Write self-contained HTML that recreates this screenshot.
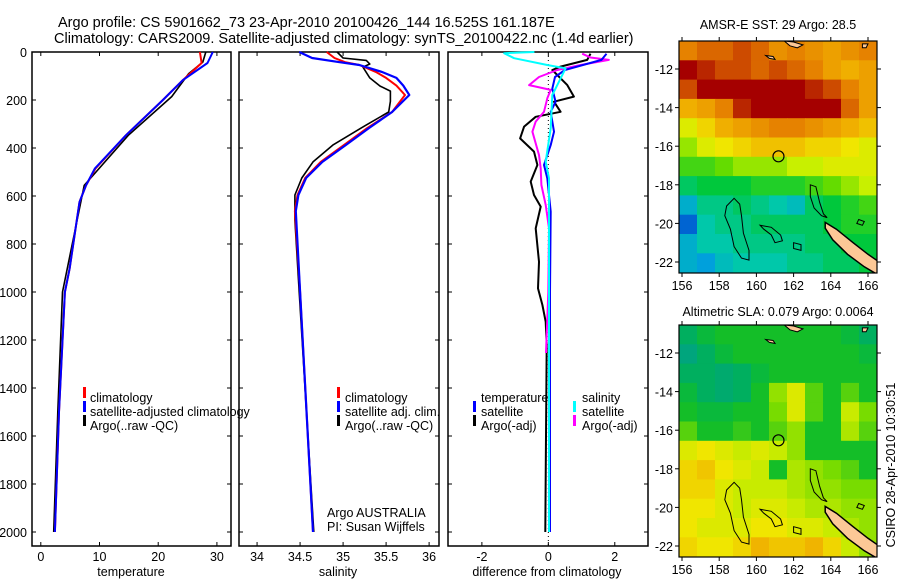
<!DOCTYPE html>
<html><head><meta charset="utf-8"><style>
html,body{margin:0;padding:0;background:#fff;}
svg{display:block;font-family:"Liberation Sans",sans-serif;}
</style></head><body>
<svg id="fig" width="900" height="580" viewBox="0 0 900 580" xmlns="http://www.w3.org/2000/svg">
<rect width="900" height="580" fill="#fff"/>
<text x="58" y="27" font-size="14.5">Argo profile: CS 5901662_73 23-Apr-2010 20100426_144 16.525S 161.187E</text>
<text x="54" y="43" font-size="14.5">Climatology: CARS2009. Satellite-adjusted climatology: synTS_20100422.nc (1.4d earlier)</text>
<text x="778" y="29" font-size="12.5" text-anchor="middle">AMSR-E SST: 29 Argo: 28.5</text>
<text x="778" y="316" font-size="12.5" text-anchor="middle">Altimetric SLA: 0.079 Argo: 0.0064</text>
<text transform="translate(895,465) rotate(-90)" font-size="12.5" text-anchor="middle">CSIRO 28-Apr-2010 10:30:51</text>
<g id="plots"></g>
</svg>
<script>
// ---------- profile data ----------
const tDepth = [0,46,117,200,347,486,556,625,903,1000,1500,2000];
const tClim  = [27.1,27.4,24.2,20.8,14.5,9.3,7.7,6.6,4.9,4.1,3.1,2.4];
const tSat   = [29.3,28.4,24.2,20.8,14.5,9.2,7.7,6.6,4.9,4.1,3.1,2.4];
const tArgoDepth = [0,42,90,186,347,556,1000,1500,2000];
const tArgo  = [28.1,27.6,25.2,22.3,14.9,7.4,3.7,2.9,2.2];

const sDepth = [0,25,42,54,83,108,140,179,250,317,388,458,525,596,663,1000,2000];
const sClim  = [34.81,34.90,35.02,35.19,35.38,35.50,35.62,35.72,35.57,35.28,35.01,34.74,34.56,34.47,34.44,34.50,34.65];
const sSat   = [34.49,34.64,34.95,35.19,35.45,35.62,35.70,35.77,35.57,35.30,35.03,34.76,34.57,34.48,34.45,34.50,34.65];
const sArgoDepth = [0,25,35,50,63,108,142,163,205,250,306,388,458,525,596,700,1000,2000];
const sArgo  = [34.93,35.00,35.27,35.31,35.23,35.31,35.43,35.55,35.55,35.53,35.26,34.88,34.65,34.52,34.44,34.44,34.49,34.66];

const dTArgoDepth = [7,33,61,75,138,186,207,249,270,311,360,415,471,540,596,644,735,874,985,1054,1124,1221,1600,2000];
const dTArgo = [1.27,1.17,0.37,0.12,0.57,0.77,0.17,0.37,-0.38,-0.73,-0.85,-0.43,-0.33,-0.53,-0.43,-0.23,-0.38,-0.28,-0.31,-0.18,-0.08,-0.05,-0.07,-0.09];
const dTSatDepth = [7,33,75,104,153,207,249,332,388,471,526,665,1000,2000];
const dTSat = [1.75,1.6,0.5,0.2,0.12,0.22,0.07,0.17,0.07,-0.13,-0.03,0.07,0.05,0.05];
const dSSatDepth = [0,5,26,54,68,110,179,318,457,526,1000,2000];
const dSSat = [-0.42,-1.33,-1.03,-0.03,0.52,0.37,0.12,0.07,-0.08,0.02,0.02,0.02];
const dSArgoDepth = [7,23,33,54,75,104,138,158,193,249,290,332,429,485,554,637,735,1000,1254];
const dSArgo = [1.02,1.27,1.82,0.97,0.27,-0.28,-0.58,0.07,-0.03,-0.13,-0.38,-0.48,-0.28,-0.23,-0.21,-0.08,0.02,0.0,-0.07];

const depthTicks = [0,200,400,600,800,1000,1200,1400,1600,1800,2000];
const tTicks = [0,10,20,30];
const sTicks = [34,34.5,35,35.5,36];
const sTickLabels = ["34","34.5","35","35.5","36"];
const dTicks = [-2,0,2];

// ---------- map data ----------
const mapLonTicks = [156,158,160,162,164,166];
const mapLatTicks = [-12,-14,-16,-18,-20,-22];
const sstGrid = [
[28.9,29.0,29.0,29.1,29.0,28.8,28.9,28.8,28.7,28.8,28.9],
[29.3,29.2,29.1,29.1,29.0,29.1,29.0,28.9,28.7,28.6,28.7],
[29.1,29.3,29.3,29.3,29.4,29.4,29.3,29.2,29.1,28.9,28.7],
[28.6,28.7,28.9,29.2,29.4,29.4,29.4,29.4,29.3,29.0,28.7],
[28.2,28.4,28.6,28.7,28.8,28.9,28.9,28.8,28.7,28.6,28.5],
[28.0,28.2,28.3,28.4,28.5,28.5,28.5,28.4,28.4,28.3,28.2],
[27.8,27.8,27.9,28.0,28.0,28.0,28.1,28.1,28.2,28.2,28.2],
[27.5,27.6,27.6,27.6,27.7,27.7,27.7,27.8,27.9,28.0,28.1],
[27.1,27.4,27.4,27.5,27.4,27.3,27.2,27.5,27.6,27.7,27.8],
[26.8,27.3,27.4,27.4,27.5,27.5,27.5,27.5,27.6,27.7,27.7],
[27.1,27.3,27.3,27.4,27.4,27.4,27.4,27.5,27.5,27.6,27.6],
[27.1,27.0,27.2,27.3,27.3,27.3,27.4,27.4,27.5,27.5,27.6]];
const slaGrid = [
[-0.03,-0.01,0,0,0,0,0,0,0,-0.01,-0.03],
[-0.05,-0.03,-0.01,0,0,0,0,0,0,0,-0.01],
[-0.03,-0.03,-0.04,-0.03,-0.01,0,0,0,0,0,0],
[-0.01,-0.03,-0.04,-0.03,0,0.04,0.07,0.02,0,0.02,0],
[0,-0.01,-0.01,0,0,0.03,0.07,0.02,0,0.06,0.03],
[0.02,0,0,0.01,0,0.02,0.04,0,0,0.05,0.02],
[0.07,0.08,0.07,0.06,0.07,0.06,0.04,0,0,0,0],
[0.09,0.1,0.08,0.07,0.06,0,0.05,0.04,0.03,0.02,0],
[0.09,0.09,0.07,0.06,0.06,0.06,0.05,0.04,0.04,0.03,0.03],
[0.08,0.08,0.07,0.06,0.07,0.07,0.06,0.05,0.05,0.04,0.04],
[0.08,0.07,0.07,0.07,0.08,0.08,0.07,0.07,0.06,0.05,0.04],
[0.09,0.08,0.08,0.09,0.11,0.10,0.10,0.11,0.09,0.06,0.04]];
const argoLon = 161.187, argoLat = -16.525;

const NS = "http://www.w3.org/2000/svg";
const root = document.getElementById('plots');
function mk(tag, attrs, parent){const e=document.createElementNS(NS,tag);for(const k in attrs)e.setAttribute(k,attrs[k]);(parent||root).appendChild(e);return e;}

const yTop=52, pxPerM=0.24, yBot=546;
const yD = d => yTop + d*pxPerM;

function panel(name, x0, x1, v0, v1){
  const sx = v => x0 + (v - v0)/(v1 - v0)*(x1 - x0);
  const g = mk('g',{});
  
  
  const fr = mk('rect',{x:x0,y:yTop,width:x1-x0,height:yBot-yTop,fill:'none',stroke:'#000','stroke-width':1.5},g);
  
  
  depthTicks.forEach(d=>{
    mk('line',{x1:x0,x2:x0+4,y1:yD(d),y2:yD(d),stroke:'#000'},g);
    mk('line',{x1:x1-4,x2:x1,y1:yD(d),y2:yD(d),stroke:'#000'},g);
  });
  return {g, sx};
}
function line(g, name, xs, ds, sx, color, w){
  const p = xs.map((v,i)=>sx(v).toFixed(1)+','+yD(ds[i]).toFixed(1)).join(' ');
  const e = mk('polyline',{points:p,fill:'none',stroke:color,'stroke-width':w,'stroke-linejoin':'round'},g);
  
  
}
function xticks(g, sx, ticks, labels, name){
  ticks.forEach((t,i)=>{
    mk('line',{x1:sx(t),x2:sx(t),y1:yBot,y2:yBot-4,stroke:'#000'},g);
    mk('line',{x1:sx(t),x2:sx(t),y1:yTop,y2:yTop+4,stroke:'#000'},g);
    const tx = mk('text',{x:sx(t),y:561,'font-size':12.5,'text-anchor':'middle'},g);
    tx.textContent = labels[i];
    
    
  });
}
function txt(g, name, x, y, s, anchor){
  const t = mk('text',{x:x,y:y,'font-size':12.5,'text-anchor':anchor||'start'},g);
  t.textContent = s;
  
  
}
function mark(g, x, y, color){ mk('rect',{x:x-1,y:y-10,width:3,height:11,fill:color},g); }

// Panel 1: temperature
const p1 = panel('temperature-panel', 32, 231, -1.5, 32.4);
depthTicks.forEach(d=>{ txt(p1.g,'depth-tick-label',27,yD(d)+5,String(d),'end'); });
xticks(p1.g, p1.sx, tTicks, tTicks.map(String), 'temperature');
line(p1.g,'temp-argo-line',tArgo,tArgoDepth,p1.sx,'#000',1.6);
line(p1.g,'temp-climatology-line',tClim,tDepth,p1.sx,'#f00',2);
line(p1.g,'temp-satellite-line',tSat,tDepth,p1.sx,'#00f',2);
txt(p1.g,'temperature-axis-title',131,576,'temperature','middle');
mark(p1.g,84,397,'#f00'); txt(p1.g,'legend-climatology',90,402,'climatology');
mark(p1.g,84,411,'#00f'); txt(p1.g,'legend-satellite-adjusted',90,416,'satellite-adjusted climatology');
mark(p1.g,84,425,'#000'); txt(p1.g,'legend-argo',90,430,'Argo(..raw -QC)');

// Panel 2: salinity
const p2 = panel('salinity-panel', 239, 439, 33.79, 36.115);
xticks(p2.g, p2.sx, sTicks, sTickLabels, 'salinity');
line(p2.g,'sal-argo-line',sArgo,sArgoDepth,p2.sx,'#000',1.6);
line(p2.g,'sal-climatology-line',sClim,sDepth,p2.sx,'#f00',2);
line(p2.g,'sal-satellite-line',sSat,sDepth,p2.sx,'#00f',2.2);
txt(p2.g,'salinity-axis-title',338,576,'salinity','middle');
mark(p2.g,338,397,'#f00'); txt(p2.g,'legend-climatology',345,402,'climatology');
mark(p2.g,338,411,'#00f'); txt(p2.g,'legend-satellite-adj',345,416,'satellite adj. clim.');
mark(p2.g,338,425,'#000'); txt(p2.g,'legend-argo',345,430,'Argo(..raw -QC)');
txt(p2.g,'argo-australia-label',327,517,'Argo AUSTRALIA');
txt(p2.g,'pi-label',327,531,'PI: Susan Wijffels');

// Panel 3: differences
const p3 = panel('difference-panel', 448, 648, -3.02, 3.0);
mk('line',{x1:p3.sx(0),x2:p3.sx(0),y1:yTop,y2:yBot,stroke:'#000','stroke-dasharray':'1,3'},p3.g);
xticks(p3.g, p3.sx, dTicks, dTicks.map(String), 'difference');
line(p3.g,'diff-temp-argo-line',dTArgo,dTArgoDepth,p3.sx,'#000',2);
line(p3.g,'diff-sal-argo-line',dSArgo,dSArgoDepth,p3.sx,'#f0f',2);
line(p3.g,'diff-temp-satellite-line',dTSat,dTSatDepth,p3.sx,'#00f',2);
line(p3.g,'diff-sal-satellite-line',dSSat,dSSatDepth,p3.sx,'#0ff',2);
txt(p3.g,'difference-axis-title',547,576,'difference from climatology','middle');
txt(p3.g,'legend-temperature-header',481,402,'temperature');
mark(p3.g,474,411,'#00f'); txt(p3.g,'legend-temp-satellite',481,416,'satellite');
mark(p3.g,474,425,'#000'); txt(p3.g,'legend-temp-argo',481,430,'Argo(-adj)');
txt(p3.g,'legend-salinity-header',582,402,'salinity');
mark(p3.g,574,411,'#0ff'); txt(p3.g,'legend-sal-satellite',582,416,'satellite');
mark(p3.g,574,425,'#f0f'); txt(p3.g,'legend-sal-argo',582,430,'Argo(-adj)');

// ---------- maps ----------
function lerpColor(stops, v){
  if(v<=stops[0][0]) return 'rgb('+stops[0][1].join(',')+')';
  for(let i=1;i<stops.length;i++){
    if(v<=stops[i][0]){const a=stops[i-1],b=stops[i],t=(v-a[0])/(b[0]-a[0]);
      return 'rgb('+a[1].map((c,k)=>Math.round(c+(b[1][k]-c)*t)).join(',')+')';}
  }
  return 'rgb('+stops[stops.length-1][1].join(',')+')';
}
const sstStops=[[26.6,[0,40,200]],[27.0,[0,160,220]],[27.3,[0,200,170]],[27.6,[0,200,60]],[27.9,[100,220,0]],[28.1,[200,240,0]],[28.3,[240,230,0]],[28.6,[240,175,0]],[28.9,[230,130,0]],[29.1,[205,75,0]],[29.3,[165,0,0]]];
const slaStops=[[-0.05,[0,165,125]],[-0.02,[0,180,80]],[0.0,[20,190,40]],[0.03,[120,220,0]],[0.06,[200,235,0]],[0.08,[240,230,0]],[0.11,[240,180,0]]];

function drawMap(name, grid, stops, top, bot, lat12y, lat22y){
  const L=679,R=877;
  const lx = lon => 682 + (lon-156)*(868-682)/10;
  const ly = lat => lat12y + (lat+12)*(lat22y-lat12y)/(-10);
  const lonMin = 156 + (L-682)/((868-682)/10), lonMax = 156 + (R-682)/((868-682)/10);
  const latMax = -12 + (top-lat12y)/((lat12y-lat22y)/10);
  const g = mk('g',{});
  
  
  const cid = name+'-clip';
  const cp = mk('clipPath',{id:cid},g); mk('rect',{x:L,y:top,width:R-L,height:bot-top},cp);
  const inner = mk('g',{'clip-path':'url(#'+cid+')'},g);
  const nc = grid[0].length, dl=(lonMax-lonMin)/nc;
  grid.forEach((row,r)=>row.forEach((v,c)=>{
    const x0=lx(lonMin+c*dl), x1=lx(lonMin+(c+1)*dl);
    const y0=ly(latMax-r), y1=ly(latMax-r-1);
    const cell = mk('rect',{x:x0,y:y0,width:x1-x0+0.5,height:Math.max(y1-y0, bot-y0)+0.5,fill:lerpColor(stops, v)},inner);
    
    
  }));
  const poly=(pts,fill,sw)=>mk('polygon',{points:pts.map(p=>lx(p[0]).toFixed(1)+','+ly(p[1]).toFixed(1)).join(' '),fill:fill,stroke:'#000','stroke-width':sw},inner);
  const nc1 = poly([[163.7,-19.95],[164.3,-20.3],[165.2,-21.0],[166.0,-21.6],[166.6,-22.0],[166.6,-22.7],[165.8,-22.25],[164.9,-21.6],[164.1,-20.85],[163.7,-20.25]],'#fcc896',1.5);
  
  
  poly([[161.5,-10.55],[162.0,-10.6],[162.5,-10.75],[162.2,-10.9],[161.8,-10.8]],'#fcc896',1);
  poly([[160.5,-11.3],[160.9,-11.35],[161.0,-11.5],[160.7,-11.45]],'#fcc896',1);
  poly([[165.7,-10.7],[166.0,-10.7],[165.9,-10.9],[165.7,-10.9]],'#fcc896',1);
  poly([[158.8,-18.7],[159.1,-19.0],[159.2,-19.6],[159.3,-20.5],[159.6,-21.4],[159.6,-21.9],[159.2,-21.8],[158.8,-21.2],[158.6,-20.3],[158.3,-19.6],[158.4,-19.1]],'none',1);
  poly([[160.2,-20.1],[160.8,-20.2],[161.3,-20.6],[161.4,-20.9],[161.0,-21.0],[160.8,-20.6],[160.4,-20.3]],'none',1);
  poly([[162.9,-18.0],[163.2,-18.1],[163.4,-18.9],[163.6,-19.5],[163.8,-19.7],[163.5,-19.6],[163.1,-19.2],[162.9,-18.6]],'none',1);
  poly([[162.0,-21.0],[162.4,-21.1],[162.4,-21.4],[162.0,-21.3]],'none',1);
  poly([[165.5,-19.8],[165.8,-19.9],[165.7,-20.1],[165.4,-20.0]],'none',1);
  const c = mk('circle',{cx:lx(argoLon),cy:ly(argoLat),r:5.5,fill:'none',stroke:'#000','stroke-width':1.2},g);
  
  
  const fr = mk('rect',{x:L,y:top,width:R-L,height:bot-top,fill:'none',stroke:'#000','stroke-width':1.2},g);
  
  
  mapLonTicks.forEach(t=>{
    mk('line',{x1:lx(t),x2:lx(t),y1:top,y2:top-4,stroke:'#000'},g);
    mk('line',{x1:lx(t),x2:lx(t),y1:bot,y2:bot+4,stroke:'#000'},g);
    txt(g,name+'-lon-label',lx(t),bot+17,String(t),'middle');
  });
  mapLatTicks.forEach(t=>{
    mk('line',{x1:L,x2:L-4,y1:ly(t),y2:ly(t),stroke:'#000'},g);
    mk('line',{x1:R,x2:R+4,y1:ly(t),y2:ly(t),stroke:'#000'},g);
    txt(g,name+'-lat-label',673,ly(t)+5,String(t),'end');
  });
}
drawMap('sst-map', sstGrid, sstStops, 41, 273, 69, 262);
drawMap('sla-map', slaGrid, slaStops, 325, 557, 353, 546);
</script>
</body></html>
